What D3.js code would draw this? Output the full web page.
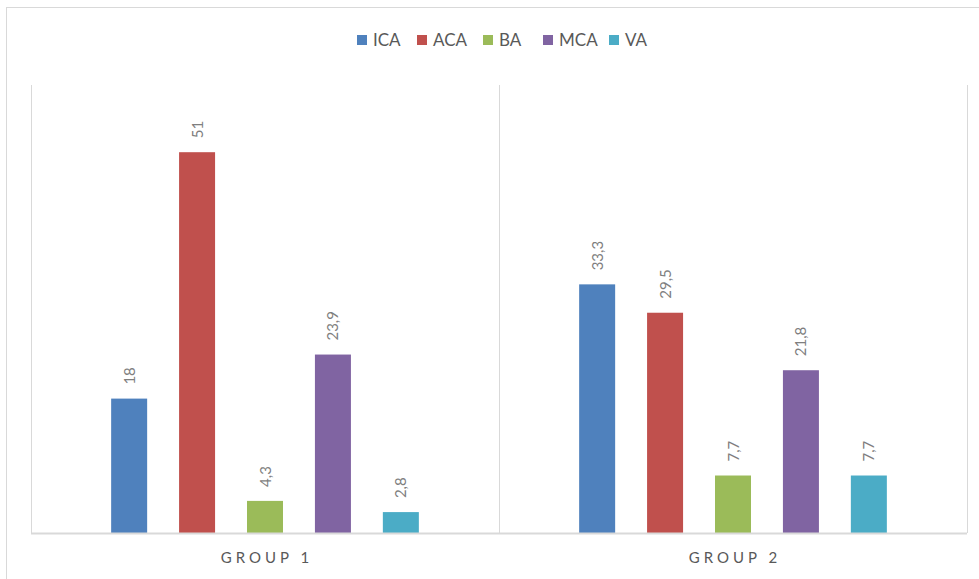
<!DOCTYPE html>
<html>
<head>
<meta charset="utf-8">
<script src="https://cdn.jsdelivr.net/npm/d3@7"></script>
<style>
  body { margin: 0; background: #fff; }
  text { font-family: Lato, "Open Sans", sans-serif; }
</style>
</head>
<body>
<svg id="chart" width="979" height="579"></svg>
<script>
// chart data
const groups = ["GROUP 1", "GROUP 2"];
const series = ["ICA", "ACA", "BA", "MCA", "VA"];
const group1Values = [18, 51, 4.3, 23.9, 2.8];
const group2Values = [33.3, 29.5, 7.7, 21.8, 7.7];
const colors = ["#4f81bd", "#c0504d", "#9bbb59", "#8064a2", "#4bacc6"];

const values = [group1Values, group2Values];
const svg = d3.select("#chart");

// outer chart border
svg.append("rect")
  .attr("x", 6.5).attr("y", 7.5)
  .attr("width", 1000).attr("height", 600)
  .attr("fill", "none").attr("stroke", "#d9d9d9");

const plot = { left: 31, right: 967, top: 85, bottom: 533 };

const x0 = d3.scaleBand().domain(groups).range([plot.left, plot.right]);
const x1 = d3.scaleBand().domain(series).range([0, x0.bandwidth()])
  .paddingInner(0.47).paddingOuter(1.18);
const y = d3.scaleLinear().domain([0, 60]).range([plot.bottom, plot.top]);

// category separators
const seps = [plot.left, ...groups.map(g => x0(g) + x0.bandwidth())];
svg.selectAll(".sep").data(seps).enter().append("line")
  .attr("x1", d => d + 0.5).attr("x2", d => d + 0.5)
  .attr("y1", plot.top).attr("y2", plot.bottom)
  .attr("stroke", "#d9d9d9");

// bars
const gG = svg.selectAll(".grp").data(groups).enter().append("g")
  .attr("transform", g => `translate(${x0(g)},0)`);

gG.selectAll("rect").data((g, i) => values[i].map((v, j) => ({ s: series[j], v, c: colors[j] })))
  .enter().append("rect")
  .attr("x", d => x1(d.s)).attr("width", x1.bandwidth())
  .attr("y", d => y(d.v)).attr("height", d => y(0) - y(d.v))
  .attr("fill", d => d.c);

// rotated value labels
gG.selectAll(".lbl").data((g, i) => values[i].map((v, j) => ({ s: series[j], v })))
  .enter().append("text")
  .attr("transform", d => `translate(${x1(d.s) + x1.bandwidth() / 2 + 5.5},${y(d.v) - 14}) rotate(-90)`)
  .attr("text-anchor", "start")
  .attr("font-size", 15)
  .attr("fill", "#7f7f7f")
  .text(d => String(d.v).replace(".", ","));

// baseline
svg.append("line")
  .attr("x1", plot.left).attr("x2", plot.right)
  .attr("y1", plot.bottom + 0.5).attr("y2", plot.bottom + 0.5)
  .attr("stroke", "#d9d9d9").attr("stroke-width", 2);

// category labels
svg.selectAll(".cat").data(groups).enter().append("text")
  .attr("x", g => x0(g) + x0.bandwidth() / 2 + 2)
  .attr("y", 563)
  .attr("text-anchor", "middle")
  .attr("font-size", 15)
  .attr("letter-spacing", "4px")
  .attr("fill", "#595959")
  .text(g => g);

// legend
const legendX = [357, 417, 483, 543, 609];
const leg = svg.selectAll(".leg").data(series).enter().append("g")
  .attr("transform", (d, i) => `translate(${legendX[i]},35)`);
leg.append("rect").attr("width", 10).attr("height", 10)
  .attr("fill", (d, i) => colors[i]);
leg.append("text").attr("x", 16).attr("y", 11)
  .attr("font-size", 17).attr("fill", "#595959")
  .text(d => d);
</script>
</body>
</html>
